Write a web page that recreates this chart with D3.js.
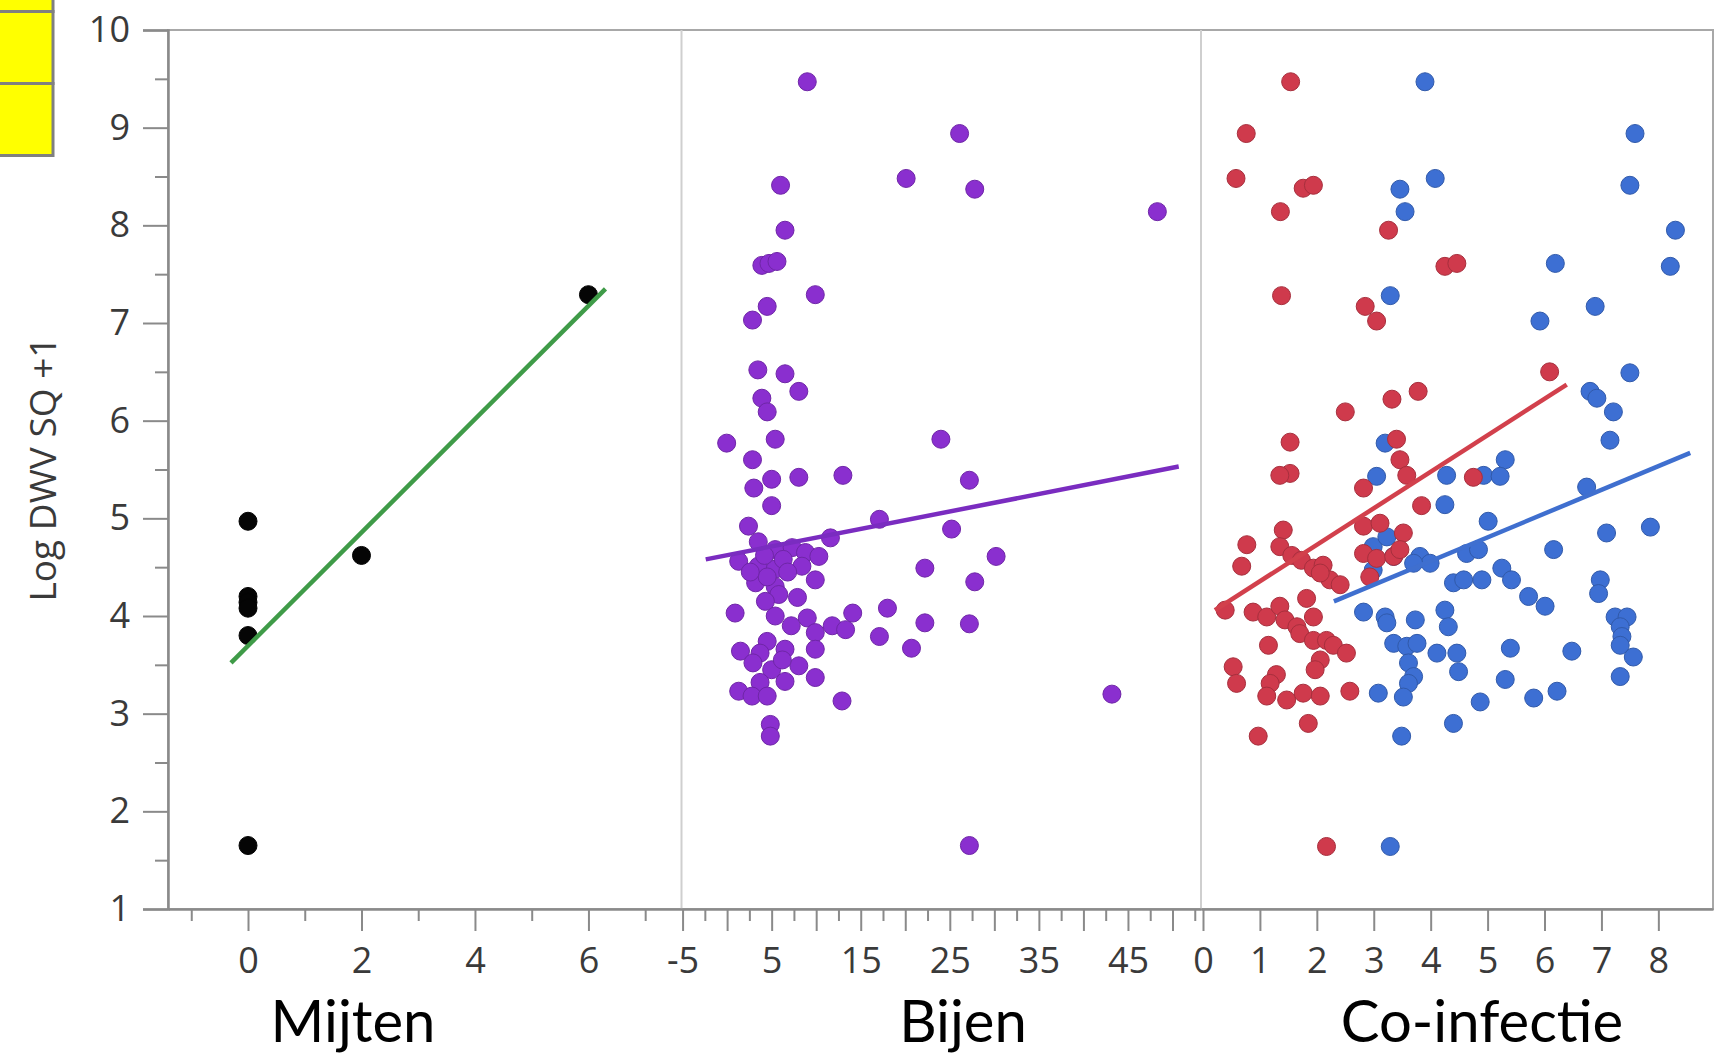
<!DOCTYPE html>
<html>
<head>
<meta charset="utf-8">
<script src="https://cdn.jsdelivr.net/npm/d3@7"></script>
<style>
  body { margin: 0; background: #fff; }
  svg { display: block; }
</style>
</head>
<body>
<div id="chart"></div>
<script>
// ---- data ----
const yTicks = [1, 2, 3, 4, 5, 6, 7, 8, 9, 10];
const panelNames = ["Mijten", "Bijen", "Co-infectie"];

const mijtenTicks = [0, 2, 4, 6];
const mijtenPoints = [[0, 4.97], [0, 4.2], [0, 4.14], [0, 4.08], [0, 3.8], [0, 1.65], [2, 4.62], [6, 7.29]];
const mijtenFit = [[-0.3, 3.52], [6.3, 7.35]];

const bijenTicks = [-5, 5, 15, 25, 35, 45];
const bijenPoints = [
  [9.0, 9.47], [26.1, 8.94], [20.1, 8.48], [27.8, 8.37], [48.3, 8.14], [6.0, 8.41], [6.5, 7.95],
  [3.9, 7.59], [4.7, 7.61], [5.6, 7.63], [9.9, 7.29], [4.5, 7.17], [2.85, 7.03], [3.45, 6.52],
  [6.5, 6.48], [8.05, 6.3], [3.9, 6.23], [4.5, 6.09], [-0.05, 5.77], [5.4, 5.81], [24.0, 5.81],
  [2.85, 5.6], [3.0, 5.31], [5.0, 5.4], [8.05, 5.42], [13.0, 5.44], [27.2, 5.39], [5.0, 5.13],
  [2.4, 4.92], [17.1, 4.99], [25.2, 4.89], [11.6, 4.8], [30.2, 4.61], [22.2, 4.49], [27.8, 4.35],
  [3.5, 4.76], [5.4, 4.68], [7.3, 4.7], [8.8, 4.65], [10.3, 4.61], [1.3, 4.56], [3.5, 4.51],
  [5.4, 4.48], [8.4, 4.51], [9.9, 4.37], [3.2, 4.34], [5.4, 4.3], [5.8, 4.22], [7.9, 4.19],
  [0.9, 4.03], [5.4, 4.0], [9.0, 3.98], [9.9, 3.83], [11.8, 3.9], [13.3, 3.86], [14.1, 4.03],
  [18.0, 4.08], [17.1, 3.79], [22.2, 3.93], [20.7, 3.67], [27.2, 3.92], [1.5, 3.64], [4.5, 3.74],
  [6.5, 3.66], [3.7, 3.62], [9.9, 3.66], [8.05, 3.49], [5.0, 3.45], [6.5, 3.33], [9.9, 3.37],
  [3.7, 3.32], [1.3, 3.23], [2.8, 3.18], [4.5, 3.18], [12.9, 3.13], [4.85, 2.89], [4.85, 2.77],
  [43.2, 3.2], [27.2, 1.65], [4.2, 4.62], [6.3, 4.58], [4.5, 4.4], [6.8, 4.45], [2.6, 4.45],
  [4.3, 4.15], [6.2, 3.55], [2.9, 3.52], [7.2, 3.9]
];
const bijenFit = [[-2.4, 4.58], [50.7, 5.53]];

const coTicks = [0, 1, 2, 3, 4, 5, 6, 7, 8];
const coRedPoints = [
  [1.54, 9.47], [0.76, 8.94], [0.58, 8.48], [1.76, 8.38], [1.94, 8.41], [1.36, 8.14], [3.26, 7.95],
  [4.25, 7.58], [4.46, 7.61], [1.38, 7.28], [2.85, 7.17], [3.05, 7.02], [6.09, 6.5], [3.78, 6.3],
  [3.32, 6.22], [2.5, 6.09], [1.53, 5.78], [3.4, 5.81], [3.46, 5.6], [1.53, 5.46], [1.35, 5.44],
  [3.58, 5.44], [4.75, 5.42], [2.82, 5.31], [3.84, 5.13], [1.41, 4.88], [0.77, 4.73], [0.68, 4.51],
  [1.35, 4.71], [1.56, 4.62], [1.73, 4.57], [1.94, 4.49], [2.11, 4.52], [2.23, 4.37], [2.41, 4.32],
  [2.06, 4.44], [2.82, 4.92], [3.11, 4.95], [3.52, 4.85], [2.82, 4.64], [3.05, 4.59], [3.35, 4.61],
  [3.46, 4.68], [2.93, 4.4], [0.39, 4.06], [0.88, 4.04], [1.12, 3.99], [1.35, 4.1], [1.44, 3.96],
  [1.65, 3.89], [1.94, 3.99], [1.82, 4.18], [1.15, 3.7], [1.7, 3.82], [1.94, 3.75], [2.17, 3.75],
  [2.29, 3.7], [2.52, 3.62], [2.06, 3.55], [1.97, 3.45], [0.53, 3.48], [0.59, 3.31], [1.29, 3.4],
  [1.18, 3.31], [1.12, 3.18], [1.47, 3.14], [1.76, 3.21], [2.06, 3.18], [2.58, 3.23], [1.85, 2.9],
  [0.97, 2.77], [2.17, 1.64]
];
const coBluePoints = [
  [3.9, 9.47], [7.59, 8.94], [4.08, 8.48], [3.46, 8.37], [3.55, 8.14], [7.5, 8.41], [8.3, 7.95],
  [6.19, 7.61], [8.21, 7.58], [3.29, 7.28], [6.89, 7.17], [5.92, 7.02], [7.5, 6.49], [6.8, 6.3],
  [6.92, 6.23], [7.21, 6.09], [7.15, 5.8], [3.2, 5.77], [5.31, 5.6], [3.05, 5.43], [4.28, 5.44],
  [4.93, 5.44], [5.22, 5.43], [4.25, 5.14], [6.74, 5.32], [5.01, 4.97], [7.09, 4.85], [7.86, 4.91],
  [6.16, 4.68], [2.99, 4.71], [3.23, 4.81], [3.35, 4.61], [2.99, 4.47], [3.81, 4.61], [3.99, 4.54],
  [3.7, 4.54], [4.63, 4.64], [4.84, 4.68], [4.4, 4.34], [4.58, 4.37], [4.9, 4.37], [5.25, 4.49],
  [5.42, 4.37], [5.72, 4.2], [6.01, 4.1], [6.98, 4.37], [6.95, 4.23], [2.82, 4.04], [3.2, 3.99],
  [3.23, 3.93], [3.73, 3.96], [3.35, 3.72], [3.58, 3.69], [3.76, 3.72], [3.61, 3.52], [3.7, 3.38],
  [3.61, 3.31], [3.52, 3.17], [4.11, 3.62], [4.46, 3.62], [4.49, 3.43], [4.25, 4.06], [4.31, 3.89],
  [5.4, 3.67], [6.48, 3.64], [5.31, 3.35], [7.24, 3.99], [7.45, 3.99], [7.33, 3.89], [7.36, 3.79],
  [7.33, 3.7], [7.56, 3.58], [7.33, 3.38], [3.08, 3.21], [4.87, 3.12], [5.81, 3.16], [6.22, 3.23],
  [4.4, 2.9], [3.49, 2.77], [3.29, 1.64]
];
const coRedFit = [[0.21, 4.06], [6.39, 6.37]];
const coBlueFit = [[2.3, 4.15], [8.56, 5.67]];

// ---- layout ----
const W = 1723, H = 1055;
const plot = { left: 168, right: 1713, top: 30, bottom: 909 };
const splits = [681.5, 1201];

const svg = d3.select("#chart")
  .append("svg")
  .attr("width", W)
  .attr("height", H);

// yellow boxes, top left
[[-20, 11.5], [11.5, 83.5], [83.5, 155.5]].forEach(([y0, y1]) => {
  svg.append("rect")
    .attr("x", -5).attr("y", y0)
    .attr("width", 58).attr("height", y1 - y0)
    .attr("fill", "#ffff00")
    .attr("stroke", "#808080")
    .attr("stroke-width", 3);
});

const y = d3.scaleLinear().domain([1, 10]).range([plot.bottom, plot.top]);

const panels = [
  { name: panelNames[0], domain: [-1.41, 7.64], range: [plot.left, splits[0]], ticks: mijtenTicks,
    minor: [-1, 1, 3, 5, 7], mid: [], labelX: 353 },
  { name: panelNames[1], domain: [-5.12, 53.2], range: [splits[0], splits[1]], ticks: bijenTicks,
    minor: d3.range(-2.5, 53, 5), mid: [0, 10, 20, 30, 40, 50], labelX: 963 },
  { name: panelNames[2], domain: [-0.035, 8.96], range: [splits[1], plot.right], ticks: coTicks,
    minor: [], mid: [], labelX: 1482 }
];
panels.forEach(p => { p.x = d3.scaleLinear().domain(p.domain).range(p.range); });

// frame and panel dividers
svg.append("rect")
  .attr("x", plot.left).attr("y", plot.top)
  .attr("width", plot.right - plot.left).attr("height", plot.bottom - plot.top)
  .attr("fill", "none").attr("stroke", "#a8a8a8").attr("stroke-width", 2);

splits.forEach(s => {
  svg.append("line")
    .attr("x1", s).attr("x2", s)
    .attr("y1", plot.top).attr("y2", plot.bottom)
    .attr("stroke", "#cfcfcf").attr("stroke-width", 2);
});

const tickFont = "'Open Sans', 'DejaVu Sans', sans-serif";
const plainNum = d => String(d);   // keep the ASCII hyphen for "-5"

function styleAxis(g) {
  g.select(".domain").attr("stroke", "#8a8a8a").attr("stroke-width", 2.5);
  g.selectAll(".tick line").attr("stroke", "#8a8a8a").attr("stroke-width", 2);
  g.selectAll(".tick text").attr("fill", "#3a3a3a").style("font-family", tickFont).style("font-size", "36px");
}

// y axis
svg.append("g")
  .attr("transform", `translate(${plot.left},0)`)
  .call(d3.axisLeft(y).tickValues(yTicks).tickFormat(plainNum).tickSize(25).tickPadding(13))
  .call(styleAxis);

svg.append("g")
  .attr("transform", `translate(${plot.left},0)`)
  .call(d3.axisLeft(y).tickValues(d3.range(1.5, 10, 1)).tickFormat("").tickSize(13))
  .call(styleAxis)
  .call(g => g.select(".domain").remove());

svg.append("text")
  .attr("transform", `translate(56,469) rotate(-90)`)
  .attr("text-anchor", "middle")
  .style("font-family", tickFont)
  .style("font-size", "37px")
  .attr("fill", "#3a3a3a")
  .text("Log DWV SQ +1");

// x axes per panel
panels.forEach(p => {
  svg.append("g")
    .attr("transform", `translate(0,${plot.bottom})`)
    .call(d3.axisBottom(p.x).tickValues(p.ticks).tickFormat(plainNum).tickSize(22).tickPadding(16).tickSizeOuter(0))
    .call(styleAxis);

  if (p.mid.length) {
    svg.append("g")
      .attr("transform", `translate(0,${plot.bottom})`)
      .call(d3.axisBottom(p.x).tickValues(p.mid).tickFormat("").tickSize(22).tickSizeOuter(0))
      .call(styleAxis)
      .call(g => g.select(".domain").remove());
  }
  if (p.minor.length) {
    svg.append("g")
      .attr("transform", `translate(0,${plot.bottom})`)
      .call(d3.axisBottom(p.x).tickValues(p.minor).tickFormat("").tickSize(12).tickSizeOuter(0))
      .call(styleAxis)
      .call(g => g.select(".domain").remove());
  }

  svg.append("text")
    .attr("x", p.labelX)
    .attr("y", 1042)
    .attr("text-anchor", "middle")
    .style("font-family", "Lato, 'Open Sans', sans-serif")
    .style("font-size", "58px")
    .attr("fill", "#000")
    .text(p.name);
});

// points and fit lines
function drawPoints(p, data, color) {
  svg.append("g")
    .selectAll("circle")
    .data(data)
    .enter()
    .append("circle")
    .attr("cx", d => p.x(d[0]))
    .attr("cy", d => y(d[1]))
    .attr("r", 9)
    .attr("fill", color)
    .attr("stroke", d3.color(color).darker(0.6))
    .attr("stroke-width", 1);
}

function drawFit(p, fit, color) {
  const line = d3.line().x(d => p.x(d[0])).y(d => y(d[1]));
  svg.append("path")
    .datum(fit)
    .attr("fill", "none")
    .attr("stroke", color)
    .attr("stroke-width", 4.5)
    .attr("d", line);
}

drawPoints(panels[0], mijtenPoints, "#050505");
drawFit(panels[0], mijtenFit, "#3f9b48");

drawPoints(panels[1], bijenPoints, "#8a2fcf");
drawFit(panels[1], bijenFit, "#7a2cc0");

drawPoints(panels[2], coBluePoints, "#3d6fd3");
drawPoints(panels[2], coRedPoints, "#cf3a4c");
drawFit(panels[2], coRedFit, "#d2404c");
drawFit(panels[2], coBlueFit, "#3f6fcf");
</script>
</body>
</html>
